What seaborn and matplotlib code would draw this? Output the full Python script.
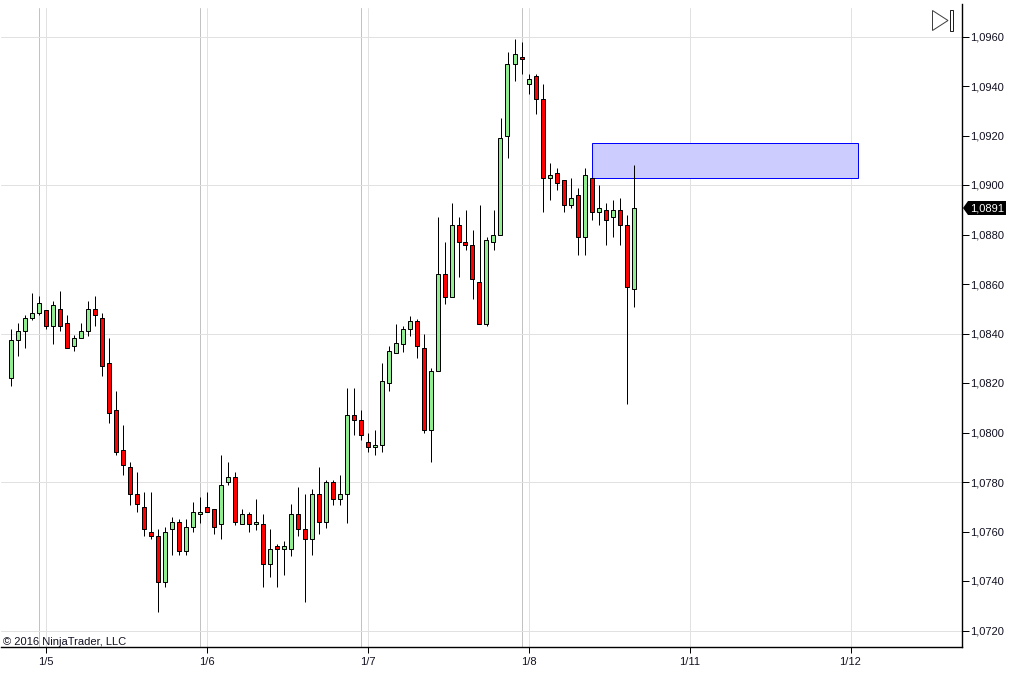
import matplotlib
matplotlib.use("Agg")
import matplotlib.pyplot as plt
from matplotlib.patches import Polygon, Rectangle
import pandas as pd
import seaborn as sns

# Prices in units of 0.0001 (10842.0 = 1.08420)
opens = [10822.0,10837.2,10841.2,10846.1,10848.1,10849.3,10843.2,10850.1,10844.1,10835.1,
         10838.0,10841.2,10850.1,10846.1,10828.2,10809.2,10793.0,10786.1,10775.1,10769.9,
         10759.7,10758.1,10739.7,10760.9,10763.8,10752.0,10761.8,10767.0,10769.9,10769.1,
         10763.0,10780.0,10782.0,10763.0,10767.0,10763.0,10763.0,10746.8,10754.1,10752.8,
         10752.8,10767.0,10760.9,10756.9,10775.1,10763.8,10780.0,10773.1,10775.1,10807.2,
         10805.1,10796.2,10794.2,10795.0,10820.2,10832.3,10835.7,10841.8,10845.0,10834.1,
         10800.9,10824.8,10864.0,10854.7,10883.8,10877.0,10875.7,10860.8,10843.8,10877.0,
         10879.8,10919.8,10948.9,10951.8,10940.8,10944.1,10934.8,10902.8,10904.9,10902.0,
         10891.9,10896.0,10879.0,10902.8,10889.1,10889.9,10887.1,10889.9,10883.8,10858.0]
closes = [10837.2,10841.2,10846.1,10848.1,10852.2,10843.2,10851.4,10843.2,10834.3,10838.0,
          10841.2,10850.1,10847.3,10827.0,10808.0,10792.2,10786.9,10775.1,10771.1,10760.9,
          10758.1,10739.7,10759.7,10763.8,10752.0,10761.8,10767.8,10767.8,10767.8,10761.8,
          10778.8,10782.0,10763.8,10767.0,10763.0,10763.8,10746.8,10752.8,10752.8,10754.1,
          10767.0,10760.9,10756.9,10775.1,10763.8,10780.0,10773.1,10775.1,10807.2,10805.1,
          10798.9,10794.2,10795.0,10820.9,10833.1,10836.0,10841.8,10845.0,10834.9,10800.9,
          10824.8,10864.0,10854.7,10883.8,10877.0,10875.7,10862.0,10843.8,10877.8,10879.8,
          10919.0,10948.9,10953.0,10950.9,10942.9,10934.8,10902.8,10904.0,10900.8,10891.9,
          10894.7,10879.0,10904.0,10889.1,10890.7,10885.8,10889.9,10883.8,10858.8,10890.7]
highs = [10842.0,10844.1,10847.3,10856.2,10855.0,10849.3,10853.0,10857.0,10847.3,10839.2,
         10844.1,10853.0,10855.0,10848.1,10838.0,10816.9,10803.1,10788.2,10784.1,10775.9,
         10775.9,10760.9,10761.8,10765.8,10765.0,10765.0,10771.9,10773.9,10775.9,10769.1,
         10790.9,10788.1,10784.1,10769.1,10767.8,10773.1,10767.0,10760.9,10754.9,10756.1,
         10771.1,10778.0,10775.1,10777.2,10786.1,10780.8,10780.8,10782.8,10818.1,10818.1,
         10809.2,10799.9,10801.2,10828.2,10835.1,10844.0,10843.0,10847.0,10845.8,10839.8,
         10826.0,10887.1,10877.0,10892.7,10887.1,10889.9,10881.8,10891.9,10879.0,10889.9,
         10927.1,10953.8,10959.0,10957.8,10944.9,10944.9,10940.8,10908.9,10906.9,10902.0,
         10902.8,10898.8,10906.9,10902.8,10900.0,10892.7,10893.9,10894.7,10887.9,10908.1]
lows = [10818.6,10830.9,10834.2,10845.3,10847.3,10841.9,10835.8,10841.1,10834.3,10833.0,
        10838.0,10839.1,10843.1,10822.8,10803.8,10790.8,10782.7,10770.9,10767.7,10758.0,
        10756.8,10727.6,10737.7,10750.7,10750.7,10750.7,10759.6,10763.6,10767.8,10758.8,
        10756.8,10778.6,10762.8,10763.0,10759.6,10760.8,10737.7,10741.8,10737.7,10742.6,
        10749.9,10758.0,10731.6,10750.7,10758.8,10761.6,10770.9,10770.9,10763.6,10798.9,
        10796.9,10792.0,10790.8,10792.0,10816.8,10832.3,10832.7,10838.8,10829.9,10799.6,
        10787.9,10824.8,10851.8,10854.7,10862.7,10873.6,10853.8,10843.8,10842.9,10873.6,
        10879.8,10910.8,10941.9,10944.7,10936.7,10928.6,10888.9,10893.8,10897.8,10888.9,
        10890.6,10871.6,10871.6,10885.7,10883.7,10875.6,10878.8,10875.6,10811.7,10850.9]

date_bars = [5, 28, 51, 74, 97, 120]
date_labels = ["1/5", "1/6", "1/7", "1/8", "1/11", "1/12"]
session_bars = [4, 27, 50, 73]
price_ticks = [10720, 10740, 10760, 10780, 10800, 10820, 10840, 10860, 10880, 10900, 10920, 10940, 10960]
grid_prices = [10720, 10780, 10840, 10900, 10960]
zone_bars = (83, 121)
zone_prices = (10903, 10917)

W, H = 1016, 674
PX = 72 / 100  # one pixel in points
X0, Y0 = 10.5, 36.5  # pixel of bar 0 and of price 10960

sns.set_theme(style="white")
plt.rcParams["font.family"] = ["Liberation Sans", "DejaVu Sans"]

df = pd.DataFrame({"bar": range(len(opens)), "open": opens, "close": closes, "high": highs, "low": lows})
df["up"] = df["close"] >= df["open"]
wicks = df.melt(id_vars="bar", value_vars=["high", "low"], value_name="price")


def fx(px):
    return px / W


def fy(py):
    return 1 - py / H


fig = plt.figure(figsize=(W / 100, H / 100), dpi=100, facecolor="white")
ax = fig.add_axes([fx(1), fy(646.5), fx(961.5) - fx(1), fy(4) - fy(646.5)])
ax.set_facecolor("white")

# Grid and session lines; the verticals stop a few pixels below the axis top
v_top = (646.5 - 8) / (646.5 - 4)
for b in date_bars:
    ax.axvline(b, ymax=v_top, color="#e1e1e1", lw=PX, zorder=1)
for b in session_bars:
    ax.axvline(b, ymax=v_top, color="#c2c2c2", lw=PX, zorder=1)
for p in grid_prices:
    ax.axhline(p, color="#e1e1e1", lw=PX, zorder=1)

# Supply zone
ax.add_patch(Rectangle((zone_bars[0], zone_prices[0]), zone_bars[1] - zone_bars[0], zone_prices[1] - zone_prices[0],
                       facecolor="#ccccff", edgecolor="#0000ff", lw=PX, zorder=2))

# Candles
sns.lineplot(data=wicks, x="bar", y="price", units="bar", estimator=None, color="black",
             lw=PX, ax=ax, legend=False, zorder=3, solid_capstyle="butt")
body_low = df[["open", "close"]].min(axis=1)
body_h = (df["close"] - df["open"]).abs()
ax.bar(df["bar"], body_h, bottom=body_low, width=4 / 7,
       color=["#90ee90" if u else "#ff0000" for u in df["up"]],
       edgecolor="black", linewidth=PX, zorder=4)

ax.set_xlim((1 - X0) / 7, (961.5 - X0) / 7)
ax.set_ylim(10960 - (646.5 - Y0) / 2.475, 10960 + (Y0 - 4) / 2.475)
ax.set_xlabel("")
ax.set_ylabel("")

ax.set_xticks(date_bars, date_labels)
ax.yaxis.tick_right()
ax.set_yticks(price_ticks, [f"{p / 10000:.4f}".replace(".", ",") for p in price_ticks])
ax.tick_params(axis="x", bottom=True, length=6 * PX, width=PX, color="black", labelsize=8, pad=3, labelcolor="#111122")
ax.tick_params(axis="y", right=True, length=7 * PX, width=PX, color="black", labelsize=8, pad=1, labelcolor="#111122")
for s in ("top", "left"):
    ax.spines[s].set_visible(False)
for s in ("bottom", "right"):
    ax.spines[s].set_visible(True)
    ax.spines[s].set_color("black")
    ax.spines[s].set_linewidth(1.0)

# Copyright
fig.text(fx(3), fy(645), "\u00a9 2016 NinjaTrader, LLC", fontsize=8, color="#111122", ha="left", va="baseline")

# Last price tag
tag_y = 208
fig.add_artist(Polygon([(fx(963), fy(tag_y)), (fx(968), fy(201)), (fx(1006), fy(201)),
                        (fx(1006), fy(215)), (fx(968), fy(215))], closed=True,
                       facecolor="black", edgecolor="none", transform=fig.transFigure))
fig.text(fx(987), fy(tag_y + 0.3), f"{closes[-1] / 10000:.4f}".replace(".", ","), fontsize=8, color="white",
         ha="center", va="center")

# Scroll-to-end icon
fig.add_artist(Polygon([(fx(932.5), fy(10.5)), (fx(948), fy(20.5)), (fx(932.5), fy(30.5))], closed=True,
                       facecolor="white", edgecolor="#404040", lw=PX, transform=fig.transFigure))
fig.add_artist(Rectangle((fx(949.5), fy(30.5)), fx(3), fy(10.5) - fy(30.5),
                         facecolor="white", edgecolor="#202020", lw=PX, transform=fig.transFigure))

fig.savefig("out.png", dpi=100, facecolor="white")
